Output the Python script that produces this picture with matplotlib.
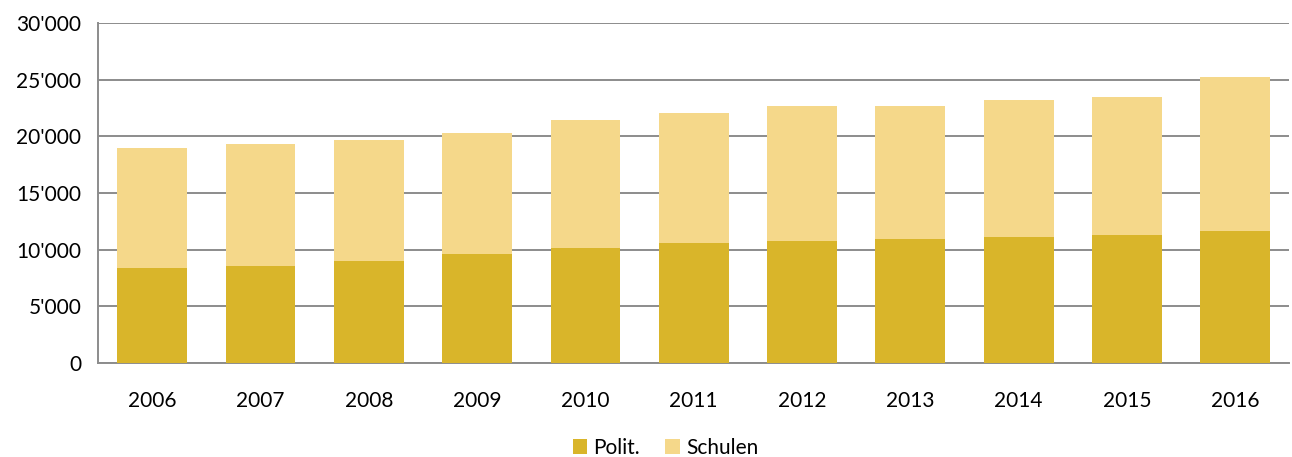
import matplotlib
matplotlib.use("Agg")
import matplotlib.pyplot as plt
from matplotlib.ticker import FuncFormatter

# data
years = ["2006", "2007", "2008", "2009", "2010", "2011", "2012", "2013", "2014", "2015", "2016"]
polit = [8340, 8520, 8960, 9650, 10180, 10620, 10770, 10930, 11140, 11310, 11640]
total = [19010, 19340, 19660, 20330, 21430, 22020, 22700, 22690, 23220, 23460, 25220]
schulen = [t - p for t, p in zip(total, polit)]

dark = "#D9B52A"
light = "#F5D88A"
grid_col = "#8C8C8C"

plt.rcParams["font.family"] = ["Lato", "DejaVu Sans"]

fig = plt.figure(figsize=(12.92, 4.57), dpi=100)
ax = fig.add_axes([0.0759, 0.2057, 0.9221, 0.744])

x = range(len(years))
ax.bar(x, polit, width=0.645, color=dark, label="Polit.", zorder=3)
ax.bar(x, schulen, width=0.645, bottom=polit, color=light, label="Schulen", zorder=3)

ax.set_ylim(0, 30000)
ax.set_xlim(-0.5, len(years) - 0.5)
ax.set_yticks(range(0, 30001, 5000))
ax.yaxis.set_major_formatter(FuncFormatter(lambda v, p: "0" if v == 0 else f"{int(v):,}".replace(",", "'")))
ax.set_xticks(list(x))
ax.set_xticklabels(years)

ax.grid(axis="y", color=grid_col, linewidth=1.4, zorder=0)
for s in ["top", "right"]:
    ax.spines[s].set_visible(False)
ax.spines["left"].set_color(grid_col)
ax.spines["left"].set_linewidth(1.4)
ax.spines["bottom"].set_color(grid_col)
ax.spines["bottom"].set_linewidth(1.4)
ax.tick_params(axis="both", length=0, labelsize=15, colors="black")
ax.tick_params(axis="y", pad=12)
ax.tick_params(axis="x", pad=20)

fig.legend(loc="center", bbox_to_anchor=(0.515, 0.02), ncol=2, frameon=False,
           fontsize=15, handlelength=0.7, handleheight=0.7, handletextpad=0.3,
           columnspacing=1.2)

fig.savefig("out.png", dpi=100)
